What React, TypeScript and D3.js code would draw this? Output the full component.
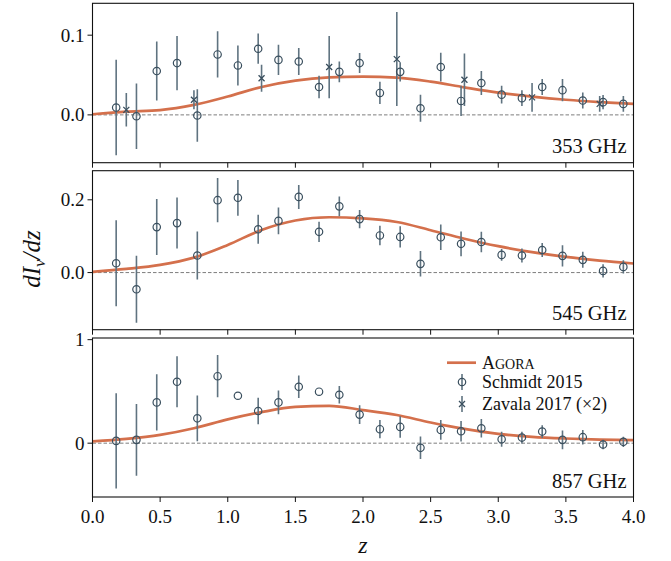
import React from "react";
import * as d3 from "d3";

// Redshift bin centres of the stacked measurements
const zSchmidt = [
  0.175, 0.325, 0.475, 0.625, 0.775, 0.925, 1.075, 1.225, 1.375, 1.525, 1.675, 1.825, 1.975,
  2.125, 2.275, 2.425, 2.575, 2.725, 2.875, 3.025, 3.175, 3.325, 3.475, 3.625, 3.775, 3.925,
];
const zZavala = [0.25, 0.75, 1.25, 1.75, 2.25, 2.75, 3.25, 3.75];
const zModel = [0, 0.25, 0.5, 0.75, 1.0, 1.25, 1.5, 1.75, 2.0, 2.25, 2.5, 2.75, 3.0, 3.25, 3.5, 3.75, 4.0];

// 353 GHz
const schmidt353 = [
  0.0092, -0.0017, 0.055, 0.065, -0.0008, 0.0758, 0.062, 0.083, 0.069, 0.067, 0.035, 0.054, 0.065,
  0.0275, 0.054, 0.0083, 0.06, 0.0175, 0.04, 0.0254, 0.021, 0.035, 0.031, 0.018, 0.016, 0.0138,
];
const schmidt353Err = [
  0.06, 0.041, 0.037, 0.034, 0.033, 0.029, 0.025, 0.019, 0.019, 0.017, 0.014, 0.013, 0.0125,
  0.014, 0.012, 0.017, 0.018, 0.019, 0.015, 0.011, 0.01, 0.01, 0.014, 0.01, 0.009, 0.01,
];
const zavala353 = [0.0063, 0.019, 0.046, 0.06, 0.07, 0.044, 0.022, 0.0138];
const zavala353Err = [0.021, 0.012, 0.017, 0.039, 0.059, 0.033, 0.018, 0.01];
const agora353 = [
  0.0008, 0.004, 0.006, 0.0125, 0.023, 0.035, 0.043, 0.047, 0.048, 0.0467, 0.0417, 0.0346, 0.028,
  0.023, 0.019, 0.016, 0.0138,
];

// 545 GHz
const schmidt545 = [
  0.0257, -0.046, 0.125, 0.136, 0.047, 0.199, 0.2055, 0.119, 0.142, 0.208, 0.112, 0.182, 0.147,
  0.102, 0.098, 0.024, 0.097, 0.079, 0.084, 0.0486, 0.047, 0.062, 0.046, 0.035, 0.0046, 0.0156,
];
const schmidt545Err = [
  0.118, 0.092, 0.077, 0.07, 0.066, 0.061, 0.049, 0.04, 0.037, 0.033, 0.028, 0.027, 0.025,
  0.027, 0.029, 0.035, 0.035, 0.034, 0.028, 0.016, 0.019, 0.019, 0.029, 0.022, 0.018, 0.018,
];
const agora545 = [
  0.002, 0.01, 0.021, 0.041, 0.076, 0.117, 0.143, 0.152, 0.149, 0.139, 0.1165, 0.093, 0.0725,
  0.056, 0.043, 0.033, 0.025,
];

// 857 GHz
const schmidt857 = [
  0.022, 0.032, 0.394, 0.593, 0.24, 0.647, 0.458, 0.311, 0.394, 0.545, 0.497, 0.468, 0.276,
  0.135, 0.157, -0.045, 0.128, 0.115, 0.144, 0.038, 0.054, 0.112, 0.032, 0.058, -0.013, 0.013,
];
const schmidt857Err = [
  0.46, 0.346, 0.272, 0.247, 0.221, 0.204, 0, 0.127, 0.115, 0.109, 0, 0.085, 0.09,
  0.088, 0.104, 0.109, 0.096, 0.1, 0.09, 0.072, 0.056, 0.061, 0.09, 0.07, 0.045, 0.05,
];
const agora857 = [
  0.018, 0.042, 0.08, 0.144, 0.23, 0.3, 0.35, 0.36, 0.32, 0.272, 0.2, 0.138, 0.09, 0.061, 0.045,
  0.035, 0.029,
];

const xTicks = [0, 0.5, 1, 1.5, 2, 2.5, 3, 3.5, 4];

type Panel = {
  label: string;
  top: number;
  bottom: number;
  domain: [number, number];
  ticks: number[];
  fmt: string;
  schmidt: number[];
  schmidtErr: number[];
  zavala?: number[];
  zavalaErr?: number[];
  agora: number[];
  legend?: boolean;
};

const panels: Panel[] = [
  {
    label: "353 GHz", top: 3.3, bottom: 162.7, domain: [-0.06, 0.14], ticks: [0, 0.1], fmt: ".1f",
    schmidt: schmidt353, schmidtErr: schmidt353Err, zavala: zavala353, zavalaErr: zavala353Err, agora: agora353,
  },
  {
    label: "545 GHz", top: 170.7, bottom: 329.7, domain: [-0.157, 0.28], ticks: [0, 0.2], fmt: ".1f",
    schmidt: schmidt545, schmidtErr: schmidt545Err, agora: agora545,
  },
  {
    label: "857 GHz", top: 338, bottom: 497, domain: [-0.52, 1.016], ticks: [0, 1], fmt: "d",
    schmidt: schmidt857, schmidtErr: schmidt857Err, agora: agora857, legend: true,
  },
];

const W = 671;
const H = 561;
const LEFT = 92.5;
const RIGHT = 633.5;
const FONT = "'Liberation Serif', 'Times New Roman', serif";
const C_MODEL = "#d4704c";
const C_MARK = "#3a4f5e";
const C_ERR = "#5f7380";

const x = d3.scaleLinear().domain([0, 4]).range([LEFT, RIGHT]);

function XMark({ cx, cy, s }: { cx: number; cy: number; s: number }) {
  return (
    <path
      d={`M${cx - s},${cy - s}L${cx + s},${cy + s}M${cx - s},${cy + s}L${cx + s},${cy - s}`}
      stroke={C_MARK}
      strokeWidth={1.3}
    />
  );
}

function PanelView({ p, last }: { p: Panel; last: boolean }) {
  const y = d3.scaleLinear().domain(p.domain).range([p.bottom, p.top]);
  const line = d3
    .line<number>()
    .x((_, i) => x(zModel[i]))
    .y((d) => y(d))
    .curve(d3.curveMonotoneX);
  const fmt = d3.format(p.fmt);
  const clipId = `clip-${p.label.replace(/\s/g, "")}`;
  return (
    <g>
      <defs>
        <clipPath id={clipId}>
          <rect x={LEFT} y={p.top} width={RIGHT - LEFT} height={p.bottom - p.top} />
        </clipPath>
      </defs>
      <g clipPath={`url(#${clipId})`}>
        <line x1={LEFT} x2={RIGHT} y1={y(0)} y2={y(0)} stroke="#6f6f6f" strokeWidth={0.9} strokeDasharray="3.5,2" />
        <path d={line(p.agora) || ""} fill="none" stroke={C_MODEL} strokeWidth={2.7} />
        {p.schmidt.map((v, i) => (
          <line
            key={`se${i}`}
            x1={x(zSchmidt[i])}
            x2={x(zSchmidt[i])}
            y1={y(v - p.schmidtErr[i])}
            y2={y(v + p.schmidtErr[i])}
            stroke={C_ERR}
            strokeWidth={1.6}
          />
        ))}
        {p.zavala &&
          p.zavala.map((v, i) => (
            <line
              key={`ze${i}`}
              x1={x(zZavala[i])}
              x2={x(zZavala[i])}
              y1={y(v - p.zavalaErr![i])}
              y2={y(v + p.zavalaErr![i])}
              stroke={C_ERR}
              strokeWidth={1.6}
            />
          ))}
        {p.schmidt.map((v, i) => (
          <circle key={`s${i}`} cx={x(zSchmidt[i])} cy={y(v)} r={3.7} fill="none" stroke={C_MARK} strokeWidth={1.2} />
        ))}
        {p.zavala && p.zavala.map((v, i) => <XMark key={`z${i}`} cx={x(zZavala[i])} cy={y(v)} s={3} />)}
      </g>
      <rect x={LEFT} y={p.top} width={RIGHT - LEFT} height={p.bottom - p.top} fill="none" stroke="#111" strokeWidth={1.1} />
      {p.ticks.map((t) => (
        <g key={`yt${t}`}>
          <line x1={LEFT - 5} x2={LEFT} y1={y(t)} y2={y(t)} stroke="#111" strokeWidth={1} />
          <text x={LEFT - 8} y={y(t)} dy="0.34em" textAnchor="end" fontSize={19} fontFamily={FONT} fill="#111">
            {fmt(t)}
          </text>
        </g>
      ))}
      {xTicks.map((t) => (
        <line key={`xt${t}`} x1={x(t)} x2={x(t)} y1={p.bottom} y2={p.bottom + 5} stroke="#111" strokeWidth={1} />
      ))}
      {last &&
        xTicks.map((t) => (
          <text key={`xl${t}`} x={x(t)} y={p.bottom + 26} textAnchor="middle" fontSize={19} fontFamily={FONT} fill="#111">
            {d3.format(".1f")(t)}
          </text>
        ))}
      <text x={RIGHT - 7} y={p.bottom - 9.5} textAnchor="end" fontSize={20.5} fontFamily={FONT} fill="#111">
        {p.label}
      </text>
      {p.legend && (
        <g fontFamily={FONT} fontSize={18} fill="#111">
          <line x1={447} x2={476} y1={362.7} y2={362.7} stroke={C_MODEL} strokeWidth={2.7} />
          <text x={482} y={362.7} dy="0.34em">
            <tspan>A</tspan>
            <tspan fontSize={14}>GORA</tspan>
          </text>
          <line x1={462} x2={462} y1={374} y2={390} stroke={C_ERR} strokeWidth={1.6} />
          <circle cx={462} cy={382} r={3.7} fill="none" stroke={C_MARK} strokeWidth={1.2} />
          <text x={482} y={382} dy="0.34em">Schmidt 2015</text>
          <line x1={462} x2={462} y1={396} y2={412} stroke={C_ERR} strokeWidth={1.6} />
          <XMark cx={462} cy={404} s={3} />
          <text x={482} y={404} dy="0.34em">Zavala 2017 (×2)</text>
        </g>
      )}
    </g>
  );
}

export default function App() {
  return (
    <div style={{ position: "absolute", left: 0, top: 0 }}>
      <svg width={W} height={H} viewBox={`0 0 ${W} ${H}`} style={{ display: "block", background: "#fff" }}>
        <rect width={W} height={H} fill="#fff" />
        {panels.map((p, i) => (
          <PanelView key={p.label} p={p} last={i === panels.length - 1} />
        ))}
        <text
          transform="translate(40,259) rotate(-90)"
          textAnchor="middle"
          fontFamily={FONT}
          fontStyle="italic"
          fontSize={25}
          fill="#111"
        >
          dI<tspan fontSize={17} dy={5}>ν</tspan>
          <tspan dy={-5}>/dz</tspan>
        </text>
        <text x={x(2)} y={553} textAnchor="middle" fontFamily={FONT} fontStyle="italic" fontSize={24} fill="#111">
          z
        </text>
      </svg>
    </div>
  );
}
